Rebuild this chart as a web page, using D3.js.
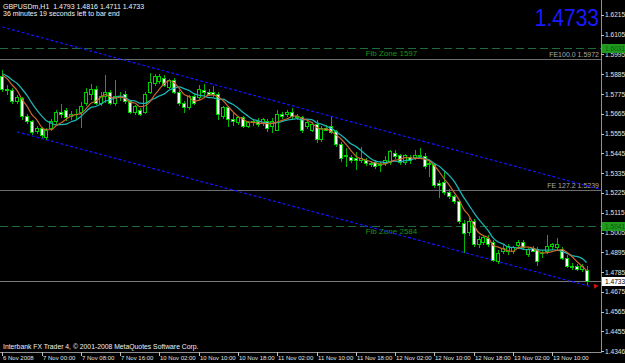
<!DOCTYPE html>
<html>
<head>
<meta charset="utf-8">
<script src="https://cdn.jsdelivr.net/npm/d3@7"></script>
<style>
  body { margin: 0; background: #000; }
  svg { display: block; background: #000; }
  text { font-family: "Liberation Sans", Arial, sans-serif; }
</style>
</head>
<body>
<svg id="chart" width="625" height="363"></svg>
<script>
// GBPUSDm H1 candles, 6 Nov 2008 16:00 .. 13 Nov 2008
var opens = [
  1.5875, 1.5803, 1.5792, 1.5731, 1.5748, 1.5648, 1.5620, 1.5564, 1.5581, 1.5536,
  1.5581, 1.5620, 1.5670, 1.5681, 1.5648, 1.5664, 1.5670, 1.5720, 1.5775, 1.5803,
  1.5725, 1.5764, 1.5781, 1.5725, 1.5764, 1.5770, 1.5731, 1.5670, 1.5686, 1.5675,
  1.5786, 1.5831, 1.5842, 1.5859, 1.5814, 1.5848, 1.5781, 1.5720, 1.5698, 1.5764,
  1.5753, 1.5792, 1.5786, 1.5786, 1.5775, 1.5648, 1.5698, 1.5631, 1.5614, 1.5642,
  1.5597, 1.5614, 1.5620, 1.5609, 1.5625, 1.5597, 1.5575, 1.5659, 1.5659, 1.5675,
  1.5648, 1.5642, 1.5592, 1.5575, 1.5603, 1.5520, 1.5586, 1.5592, 1.5564, 1.5492,
  1.5425, 1.5420, 1.5414, 1.5408, 1.5408, 1.5386, 1.5392, 1.5375, 1.5386, 1.5392,
  1.5447, 1.5431, 1.5392, 1.5420, 1.5420, 1.5431, 1.5425, 1.5386, 1.5381, 1.5275,
  1.5281, 1.5230, 1.5203, 1.5175, 1.5053, 1.5003, 1.5064, 1.4936, 1.4952, 1.4969,
  1.4947, 1.4841, 1.4902, 1.4897, 1.4897, 1.4930, 1.4952, 1.4880, 1.4914, 1.4908,
  1.4886, 1.4897, 1.4925, 1.4919, 1.4908, 1.4863, 1.4814, 1.4814, 1.4797, 1.4793
];
var highs = [
  1.5909, 1.5825, 1.5809, 1.5770, 1.5759, 1.5664, 1.5631, 1.5597, 1.5592, 1.5586,
  1.5636, 1.5686, 1.5720, 1.5698, 1.5681, 1.5692, 1.5731, 1.5809, 1.5831, 1.5820,
  1.5786, 1.5881, 1.5798, 1.5853, 1.5786, 1.5792, 1.5742, 1.5714, 1.5698, 1.5786,
  1.5892, 1.5887, 1.5887, 1.5881, 1.5859, 1.5864, 1.5798, 1.5736, 1.5770, 1.5781,
  1.5825, 1.5831, 1.5803, 1.5820, 1.5786, 1.5709, 1.5709, 1.5670, 1.5653, 1.5653,
  1.5625, 1.5636, 1.5642, 1.5642, 1.5636, 1.5642, 1.5686, 1.5675, 1.5686, 1.5698,
  1.5664, 1.5653, 1.5631, 1.5620, 1.5631, 1.5597, 1.5603, 1.5648, 1.5575, 1.5508,
  1.5475, 1.5436, 1.5453, 1.5481, 1.5420, 1.5403, 1.5408, 1.5397, 1.5431, 1.5464,
  1.5464, 1.5442, 1.5442, 1.5436, 1.5464, 1.5475, 1.5447, 1.5403, 1.5392, 1.5297,
  1.5342, 1.5247, 1.5214, 1.5186, 1.5075, 1.5086, 1.5080, 1.4986, 1.4991, 1.4991,
  1.4964, 1.4908, 1.4936, 1.4941, 1.4930, 1.4964, 1.4964, 1.4919, 1.4930, 1.4925,
  1.4908, 1.4991, 1.4947, 1.4975, 1.4925, 1.4880, 1.4836, 1.4830, 1.4830, 1.4816
];
var lows = [
  1.5786, 1.5770, 1.5720, 1.5720, 1.5631, 1.5609, 1.5547, 1.5553, 1.5531, 1.5520,
  1.5570, 1.5609, 1.5642, 1.5625, 1.5631, 1.5636, 1.5586, 1.5709, 1.5742, 1.5714,
  1.5709, 1.5725, 1.5714, 1.5709, 1.5736, 1.5720, 1.5664, 1.5659, 1.5653, 1.5664,
  1.5775, 1.5820, 1.5831, 1.5814, 1.5803, 1.5775, 1.5709, 1.5670, 1.5686, 1.5714,
  1.5742, 1.5764, 1.5764, 1.5759, 1.5631, 1.5636, 1.5592, 1.5597, 1.5603, 1.5586,
  1.5586, 1.5597, 1.5592, 1.5597, 1.5564, 1.5559, 1.5570, 1.5636, 1.5648, 1.5636,
  1.5631, 1.5559, 1.5581, 1.5564, 1.5503, 1.5508, 1.5570, 1.5553, 1.5481, 1.5397,
  1.5370, 1.5392, 1.5353, 1.5392, 1.5375, 1.5370, 1.5358, 1.5342, 1.5375, 1.5381,
  1.5414, 1.5381, 1.5381, 1.5386, 1.5408, 1.5414, 1.5358, 1.5314, 1.5253, 1.5197,
  1.5214, 1.5192, 1.5164, 1.5053, 1.4891, 1.4986, 1.4925, 1.4919, 1.4936, 1.4925,
  1.4841, 1.4830, 1.4886, 1.4880, 1.4886, 1.4914, 1.4908, 1.4869, 1.4897, 1.4819,
  1.4863, 1.4886, 1.4908, 1.4908, 1.4852, 1.4808, 1.4797, 1.4791, 1.4786, 1.4711
];
var closes = [
  1.5803, 1.5792, 1.5731, 1.5753, 1.5648, 1.5620, 1.5559, 1.5586, 1.5542, 1.5575,
  1.5620, 1.5675, 1.5664, 1.5642, 1.5664, 1.5659, 1.5703, 1.5786, 1.5803, 1.5725,
  1.5764, 1.5781, 1.5725, 1.5764, 1.5753, 1.5731, 1.5675, 1.5703, 1.5664, 1.5770,
  1.5837, 1.5870, 1.5870, 1.5820, 1.5848, 1.5781, 1.5720, 1.5698, 1.5759, 1.5725,
  1.5798, 1.5786, 1.5775, 1.5770, 1.5659, 1.5698, 1.5631, 1.5620, 1.5642, 1.5592,
  1.5614, 1.5620, 1.5603, 1.5631, 1.5586, 1.5620, 1.5659, 1.5648, 1.5675, 1.5648,
  1.5642, 1.5575, 1.5614, 1.5603, 1.5520, 1.5586, 1.5575, 1.5559, 1.5492, 1.5414,
  1.5436, 1.5403, 1.5408, 1.5414, 1.5386, 1.5381, 1.5370, 1.5381, 1.5408, 1.5453,
  1.5425, 1.5392, 1.5431, 1.5403, 1.5436, 1.5425, 1.5370, 1.5381, 1.5269, 1.5269,
  1.5230, 1.5203, 1.5175, 1.5064, 1.4997, 1.5064, 1.4936, 1.4964, 1.4975, 1.4936,
  1.4852, 1.4891, 1.4914, 1.4925, 1.4919, 1.4947, 1.4919, 1.4908, 1.4902, 1.4841,
  1.4891, 1.4925, 1.4936, 1.4936, 1.4863, 1.4814, 1.4808, 1.4802, 1.4814, 1.4733
];

var timeLabels = ["6 Nov 2008", "7 Nov 00:00", "7 Nov 08:00", "7 Nov 16:00", "10 Nov 02:00",
  "10 Nov 10:00", "10 Nov 18:00", "11 Nov 02:00", "11 Nov 10:00", "11 Nov 18:00",
  "12 Nov 02:00", "12 Nov 10:00", "12 Nov 18:00", "13 Nov 02:00", "13 Nov 10:00"];
var labelEvery = 8;

var priceTicks = [1.6215, 1.6105, 1.5995, 1.5885, 1.5775, 1.5665, 1.5555, 1.5445, 1.5335,
  1.5225, 1.5115, 1.5005, 1.4895, 1.4785, 1.4675, 1.4565, 1.4455, 1.4346];

var fibZones = [["Fib Zone 1597", 1.6031], ["Fib Zone 2584", 1.5041]];
var feLevels = [["FE100.0 1.5972", 1.5972], ["FE 127.2 1.5239", 1.5239]];
var channelUpper = [[0, 1.6148], [122, 1.5243]];
var channelLower = [[3, 1.5565], [120, 1.4703]];

// close level of the bars left of the window
var priorClose = 1.5900;
var fastPeriod = 5, slowPeriod = 8;

window.onload = function () {
    drawChart();
};

function sma(values, period, prior) {
    return values.map(function (v, i) {
        var s = 0;
        for (var k = i - period + 1; k <= i; k++) s += k < 0 ? prior : values[k];
        return s / period;
    });
}

function drawChart() {
    var svg = d3.select("#chart"),
        plotRight = 601,
        plotBottom = 352,
        n = closes.length;

    var x = d3.scaleLinear().domain([0, n - 1]).range([2.3, 586.6]);
    var y = d3.scaleLinear().domain([1.4346, 1.6298]).range([351, 0]);
    var fmt = d3.format(".4f");

    svg.append("defs").append("clipPath").attr("id", "plot")
        .append("rect").attr("width", plotRight).attr("height", plotBottom);

    var g = svg.append("g").attr("clip-path", "url(#plot)");

    // fib zones (dashed green)
    g.selectAll(".zone").data(fibZones).enter().append("line")
        .attr("x1", 0).attr("x2", plotRight)
        .attr("y1", function (d) { return Math.round(y(d[1])) + 0.5; })
        .attr("y2", function (d) { return Math.round(y(d[1])) + 0.5; })
        .attr("stroke", "#1e6a3c")
        .attr("stroke-dasharray", "8,4");

    g.selectAll(".zoneLabel").data(fibZones).enter().append("text")
        .attr("x", x(74))
        .attr("y", function (d) { return y(d[1]) + 8; })
        .attr("fill", "#16961a")
        .attr("font-size", "8px")
        .text(function (d) { return d[0]; });

    // fib expansion levels
    g.selectAll(".fe").data(feLevels).enter().append("line")
        .attr("x1", 0).attr("x2", plotRight)
        .attr("y1", function (d) { return Math.round(y(d[1])) + 0.5; })
        .attr("y2", function (d) { return Math.round(y(d[1])) + 0.5; })
        .attr("stroke", "#6e6e6e");

    g.selectAll(".feLabel").data(feLevels).enter().append("text")
        .attr("x", plotRight - 2)
        .attr("y", function (d) { return y(d[1]) - 2; })
        .attr("text-anchor", "end")
        .attr("fill", "#a8a8a8")
        .attr("font-size", "7px")
        .text(function (d) { return d[0]; });

    // bid line
    var last = closes[n - 1];
    g.append("line")
        .attr("x1", 0).attr("x2", plotRight)
        .attr("y1", Math.round(y(last)) + 0.5).attr("y2", Math.round(y(last)) + 0.5)
        .attr("stroke", "#7a7a7a");

    // channel
    var chan = d3.line()
        .x(function (d) { return x(d[0]); })
        .y(function (d) { return y(d[1]); });
    [channelUpper, channelLower].forEach(function (c) {
        g.append("path")
            .attr("d", chan(c))
            .attr("fill", "none")
            .attr("stroke", "#1414ff")
            .attr("stroke-width", 1.2)
            .attr("stroke-dasharray", "3,2");
    });
    var end = channelLower[1];
    g.append("path")
        .attr("d", "M" + (x(end[0]) + 2) + "," + (y(end[1]) - 3) + "l5,2l-4,3z")
        .attr("fill", "#e01010");

    // candles
    var idx = d3.range(n);
    var c = g.selectAll(".candle").data(idx).enter().append("g")
        .attr("shape-rendering", "crispEdges");

    c.append("line")
        .attr("x1", function (i) { return Math.round(x(i)) + 0.5; })
        .attr("x2", function (i) { return Math.round(x(i)) + 0.5; })
        .attr("y1", function (i) { return y(highs[i]); })
        .attr("y2", function (i) { return y(lows[i]); })
        .attr("stroke", "#00b400");

    c.append("rect")
        .attr("x", function (i) { return Math.round(x(i)) - 1.5; })
        .attr("width", 3)
        .attr("y", function (i) { return y(Math.max(opens[i], closes[i])); })
        .attr("height", function (i) { return Math.max(0.5, Math.abs(y(opens[i]) - y(closes[i]))); })
        .attr("fill", function (i) { return closes[i] < opens[i] ? "#ffffff" : "#000000"; })
        .attr("stroke", "#00d000");

    // moving averages
    var ma = d3.line()
        .curve(d3.curveMonotoneX)
        .x(function (d, i) { return x(i); })
        .y(function (d) { return y(d); });

    g.append("path")
        .attr("d", ma(sma(closes, slowPeriod, priorClose)))
        .attr("fill", "none")
        .attr("stroke-width", 1.3)
        .attr("stroke", "#1cb4b4");

    g.append("path")
        .attr("d", ma(sma(closes, fastPeriod, priorClose)))
        .attr("fill", "none")
        .attr("stroke-width", 1.2)
        .attr("stroke", "#c8662e");

    // frame
    svg.append("line")
        .attr("x1", plotRight + 0.5).attr("x2", plotRight + 0.5)
        .attr("y1", 0).attr("y2", plotBottom + 0.5)
        .attr("stroke", "#909090");
    svg.append("line")
        .attr("x1", 0).attr("x2", plotRight + 0.5)
        .attr("y1", plotBottom + 0.5).attr("y2", plotBottom + 0.5)
        .attr("stroke", "#909090");

    // price axis
    var ya = svg.append("g");
    ya.selectAll("line").data(priceTicks).enter().append("line")
        .attr("x1", plotRight).attr("x2", plotRight + 3)
        .attr("y1", function (d) { return Math.round(y(d)) + 0.5; })
        .attr("y2", function (d) { return Math.round(y(d)) + 0.5; })
        .attr("stroke", "#c0c0c0");
    ya.selectAll("text").data(priceTicks).enter().append("text")
        .attr("x", plotRight + 4)
        .attr("y", function (d) { return y(d) + 2.5; })
        .attr("fill", "#e0e0e0")
        .attr("font-size", "6.6px")
        .text(fmt);

    // zone price boxes
    fibZones.forEach(function (d) {
        svg.append("rect")
            .attr("x", plotRight + 1).attr("y", Math.round(y(d[1])) - 4)
            .attr("width", 23).attr("height", 9)
            .attr("fill", "#1f9a1f");
        svg.append("text")
            .attr("x", plotRight + 4).attr("y", y(d[1]) + 3)
            .attr("fill", "#0b5e0b").attr("font-size", "6.6px")
            .text(fmt(d[1]));
    });

    // bid box
    svg.append("rect")
        .attr("x", plotRight + 1).attr("y", Math.round(y(last)) - 4)
        .attr("width", 23).attr("height", 9)
        .attr("fill", "#ffffff");
    svg.append("text")
        .attr("x", plotRight + 4).attr("y", y(last) + 3)
        .attr("fill", "#000").attr("font-size", "6.6px")
        .text(fmt(last));

    // time axis
    var ticks = timeLabels.map(function (t, k) { return [k * labelEvery, t]; });
    var xa = svg.append("g");
    xa.selectAll("line").data(ticks).enter().append("line")
        .attr("x1", function (d) { return Math.round(x(d[0])) + 0.5; })
        .attr("x2", function (d) { return Math.round(x(d[0])) + 0.5; })
        .attr("y1", plotBottom).attr("y2", plotBottom + 4)
        .attr("stroke", "#c0c0c0");
    xa.selectAll("text").data(ticks).enter().append("text")
        .attr("x", function (d) { return Math.round(x(d[0])) + 1; })
        .attr("y", plotBottom + 8)
        .attr("fill", "#e0e0e0")
        .attr("font-size", "6px")
        .text(function (d) { return d[1]; });

    // captions
    svg.append("text")
        .attr("x", 3).attr("y", 9)
        .attr("fill", "#f0f0f0").attr("font-size", "7px")
        .attr("xml:space", "preserve")
        .text("GBPUSDm,H1  " + [opens[n - 1], highs[n - 1], lows[n - 1], closes[n - 1]].map(fmt).join(" "));
    svg.append("text")
        .attr("x", 3).attr("y", 16)
        .attr("fill", "#f0f0f0").attr("font-size", "7px")
        .text("36 minutes 19 seconds left to bar end");
    svg.append("text")
        .attr("x", 3).attr("y", 349)
        .attr("fill", "#f0f0f0").attr("font-size", "6.8px")
        .text("Interbank FX Trader 4, \u00a9 2001-2008 MetaQuotes Software Corp.");

    // big price, narrowed by a vertical stretch
    svg.append("text")
        .attr("transform", "translate(599,26) scale(1,1.15)")
        .attr("text-anchor", "end")
        .attr("fill", "#1a1aff")
        .attr("font-size", "21px")
        .text(fmt(last));
}
</script>
</body>
</html>
